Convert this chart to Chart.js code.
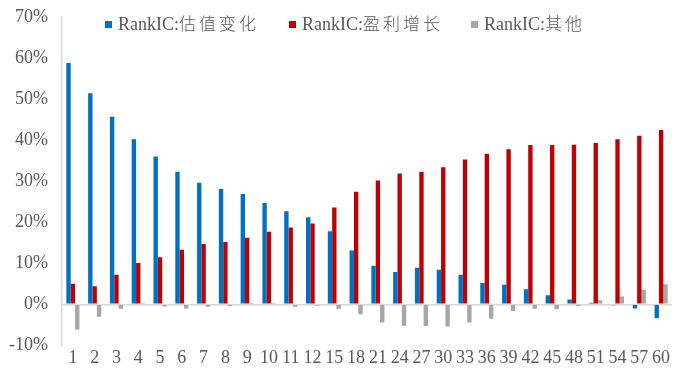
<!DOCTYPE html>
<html>
<head>
<meta charset="utf-8">
<script src="https://cdn.jsdelivr.net/npm/chart.js@4/dist/chart.umd.min.js"></script>
<style>
  html, body { margin: 0; padding: 0; background: #ffffff; }
  #wrap { position: relative; width: 678px; height: 384px; }
  #legend { position: absolute; top: 12px; left: 0; width: 678px; height: 24px;
            font-family: "Liberation Serif", "Noto Sans CJK SC", serif; font-size: 18px; color: #595959; }
  .item { position: absolute; top: 0; white-space: nowrap; line-height: 22px; }
  .box { display: inline-block; width: 7px; height: 7px; margin-right: 6px; vertical-align: 2px; }
  .cjk { font-family: "Noto Sans CJK SC", sans-serif; font-size: 17px; letter-spacing: 3px; font-weight: 300; }
</style>
</head>
<body>
<div id="wrap">
  <canvas id="chart"></canvas>
  <div id="legend"></div>
</div>
<script>
// Categories (holding period)
const categories = ['1','2','3','4','5','6','7','8','9','10','11','12','15','18','21','24','27','30','33','36','39','42','45','48','51','54','57','60'];

// Series values (%)
const valuationChange = [58.8, 51.4, 45.7, 40.2, 36.0, 32.3, 29.6, 28.1, 26.9, 24.7, 22.7, 21.2, 17.8, 13.1, 9.4, 7.9, 8.9, 8.4, 7.2, 5.2, 4.8, 3.7, 2.2, 1.2, 0.4, -0.2, -1.0, -3.4];
const earningsGrowth = [5.0, 4.4, 7.2, 10.1, 11.5, 13.3, 14.7, 15.2, 16.2, 17.7, 18.7, 19.7, 23.6, 27.4, 30.2, 31.9, 32.3, 33.4, 35.3, 36.7, 37.8, 38.8, 38.8, 38.9, 39.3, 40.2, 41.1, 42.5];
const others = [-6.1, -3.0, -1.1, 0.1, -0.5, -1.0, -0.6, -0.4, 0.1, 0.1, -0.6, -0.3, -1.1, -2.4, -4.4, -5.2, -5.3, -5.4, -4.4, -3.5, -1.6, -1.1, -1.2, -0.4, 1.0, 1.9, 3.5, 4.9];

const seriesPrefix = 'RankIC:';
const seriesNames = ['估值变化', '盈利增长', '其他'];
const seriesColors = ['#0070C0', '#C00000', '#A6A6A6'];

// Y axis ticks
const yMin = -10;
const yMax = 70;
const yStep = 10;

// html legend, sits inside the plot area like the original
const legendX = [105, 289, 471];
const legendEl = document.getElementById('legend');
seriesNames.forEach((name, i) => {
    const item = document.createElement('div');
    item.className = 'item';
    item.style.left = legendX[i] + 'px';
    item.innerHTML = '<span class="box" style="background:' + seriesColors[i] + '"></span>' +
        seriesPrefix + '<span class="cjk">' + name + '</span>';
    legendEl.appendChild(item);
});

const tickFont = { family: '"Liberation Serif", "Times New Roman", serif', size: 18 };

const ctx = document.getElementById('chart').getContext('2d');
new Chart(ctx, {
    type: 'bar',
    data: {
        labels: categories,
        datasets: seriesNames.map((name, i) => ({
            label: seriesPrefix + name,
            data: [valuationChange, earningsGrowth, others][i],
            backgroundColor: seriesColors[i]
        }))
    },
    options: {
        responsive: true,
        maintainAspectRatio: false,
        animation: false,
        datasets: {
            bar: { categoryPercentage: 0.6, barPercentage: 1.0 }
        },
        layout: { padding: { left: 0, right: 6, top: 17, bottom: 13 } },
        plugins: {
            legend: { display: false },
            tooltip: { enabled: false }
        },
        scales: {
            x: {
                grid: { display: false, drawTicks: false },
                border: { display: false },
                ticks: {
                    font: tickFont,
                    color: '#595959',
                    padding: 2,
                    autoSkip: false,
                    maxRotation: 0,
                    minRotation: 0
                }
            },
            y: {
                min: yMin,
                max: yMax,
                afterFit: s => { s.width = 62; s.paddingTop = 0; s.paddingBottom = 0; },
                grid: {
                    drawTicks: false,
                    color: c => (c.tick && c.tick.value === 0 ? '#D9D9D9' : 'rgba(0,0,0,0)'),
                    lineWidth: 1.5
                },
                border: { display: true, color: '#D9D9D9', width: 1.5 },
                ticks: {
                    stepSize: yStep,
                    font: tickFont,
                    color: '#595959',
                    padding: 14,
                    callback: v => v + '%'
                }
            }
        }
    }
});
</script>
</body>
</html>
